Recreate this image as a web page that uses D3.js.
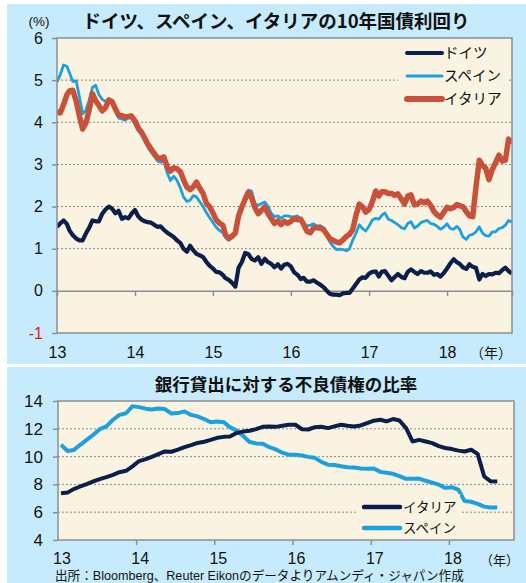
<!DOCTYPE html>
<html><head><meta charset="utf-8">
<script src="https://cdn.jsdelivr.net/npm/d3@7"></script>
<style>
body{margin:0;background:#fff}
svg{display:block}
text{font-family:"Liberation Sans","Noto Sans CJK JP",sans-serif}
.jp{font-family:"Noto Sans CJK JP","Liberation Sans",sans-serif}
</style>
</head><body>
<svg id="c" width="526" height="583"></svg>
<script>
// ---------- data: 10-year government bond yields (half-monthly readings) ----------
const yieldDates = [
"2013-01-01","2013-01-16","2013-02-01","2013-02-16","2013-03-01","2013-03-16","2013-04-01","2013-04-16","2013-05-01","2013-05-16","2013-06-01","2013-06-16",
"2013-07-01","2013-07-16","2013-08-01","2013-08-16","2013-09-01","2013-09-16","2013-10-01","2013-10-16","2013-11-01","2013-11-16","2013-12-01","2013-12-16",
"2014-01-01","2014-01-16","2014-02-01","2014-02-16","2014-03-01","2014-03-16","2014-04-01","2014-04-16","2014-05-01","2014-05-16","2014-06-01","2014-06-16",
"2014-07-01","2014-07-16","2014-08-01","2014-08-16","2014-09-01","2014-09-16","2014-10-01","2014-10-16","2014-11-01","2014-11-16","2014-12-01","2014-12-16",
"2015-01-01","2015-01-16","2015-02-01","2015-02-16","2015-03-01","2015-03-16","2015-04-01","2015-04-16","2015-05-01","2015-05-16","2015-06-01","2015-06-16",
"2015-07-01","2015-07-16","2015-08-01","2015-08-16","2015-09-01","2015-09-16","2015-10-01","2015-10-16","2015-11-01","2015-11-16","2015-12-01","2015-12-16",
"2016-01-01","2016-01-16","2016-02-01","2016-02-16","2016-03-01","2016-03-16","2016-04-01","2016-04-16","2016-05-01","2016-05-16","2016-06-01","2016-06-16",
"2016-07-01","2016-07-16","2016-08-01","2016-08-16","2016-09-01","2016-09-16","2016-10-01","2016-10-16","2016-11-01","2016-11-16","2016-12-01","2016-12-16",
"2017-01-01","2017-01-16","2017-02-01","2017-02-16","2017-03-01","2017-03-16","2017-04-01","2017-04-16","2017-05-01","2017-05-16","2017-06-01","2017-06-16",
"2017-07-01","2017-07-16","2017-08-01","2017-08-16","2017-09-01","2017-09-16","2017-10-01","2017-10-16","2017-11-01","2017-11-16","2017-12-01","2017-12-16",
"2018-01-01","2018-01-16","2018-02-01","2018-02-16","2018-03-01","2018-03-16","2018-04-01","2018-04-16","2018-05-01","2018-05-16","2018-06-01","2018-06-16",
"2018-07-01","2018-07-16","2018-08-01","2018-08-16","2018-09-01","2018-09-16","2018-10-01","2018-10-16","2018-11-01"
];
const germany = [
1.52,1.60,1.67,1.59,1.43,1.32,1.24,1.20,1.20,1.36,
1.50,1.67,1.65,1.65,1.83,1.93,2.00,1.95,1.84,1.90,
1.71,1.75,1.72,1.83,1.92,1.77,1.69,1.65,1.63,1.62,
1.57,1.52,1.53,1.45,1.38,1.33,1.28,1.20,1.14,1.00,
0.93,1.07,0.96,0.88,0.84,0.80,0.69,0.60,0.53,0.45,
0.44,0.38,0.30,0.26,0.19,0.10,0.55,0.68,0.90,0.87,
0.76,0.72,0.80,0.64,0.76,0.68,0.64,0.56,0.63,0.53,
0.62,0.64,0.58,0.44,0.38,0.28,0.31,0.22,0.22,0.25,
0.20,0.15,0.09,0.01,-0.07,-0.09,-0.09,-0.10,-0.06,-0.05,
-0.05,0.05,0.16,0.27,0.32,0.31,0.41,0.45,0.46,0.34,
0.45,0.47,0.36,0.25,0.33,0.40,0.33,0.30,0.45,0.51,
0.45,0.40,0.47,0.43,0.43,0.46,0.38,0.40,0.34,0.42,
0.53,0.65,0.75,0.68,0.64,0.56,0.52,0.63,0.57,0.55,
0.27,0.40,0.35,0.40,0.39,0.43,0.42,0.49,0.55,0.47,
0.41];
const spain = [
4.95,5.13,5.36,5.33,5.17,4.97,4.98,4.60,4.20,4.28,
4.53,4.83,4.88,4.66,4.54,4.50,4.50,4.45,4.28,4.10,
4.08,4.05,4.10,4.10,3.95,3.80,3.70,3.55,3.42,3.30,
3.20,3.08,3.05,3.10,2.80,2.62,2.72,2.63,2.45,2.23,
2.12,2.15,2.26,2.23,2.11,2.00,1.86,1.74,1.62,1.51,
1.43,1.38,1.26,1.20,1.26,1.40,1.72,1.95,2.25,2.39,
2.37,2.07,2.03,2.07,2.11,2.00,1.84,1.76,1.78,1.72,
1.78,1.78,1.76,1.75,1.78,1.70,1.61,1.54,1.56,1.59,
1.54,1.55,1.50,1.31,1.16,1.06,0.98,0.99,0.98,0.95,
1.00,1.20,1.37,1.57,1.48,1.42,1.54,1.68,1.72,1.70,
1.79,1.85,1.70,1.67,1.62,1.57,1.50,1.47,1.60,1.64,
1.49,1.54,1.62,1.65,1.67,1.60,1.58,1.53,1.46,1.51,
1.59,1.48,1.46,1.53,1.46,1.28,1.22,1.32,1.34,1.40,
1.52,1.37,1.31,1.30,1.40,1.40,1.48,1.50,1.56,1.67,
1.63];
const italy = [
4.25,4.22,4.42,4.65,4.75,4.76,4.50,4.15,3.84,3.98,
4.30,4.68,4.51,4.40,4.27,4.35,4.53,4.49,4.32,4.17,
4.16,4.12,4.14,4.15,4.03,3.87,3.76,3.62,3.49,3.38,
3.26,3.16,3.14,3.18,2.94,2.84,2.92,2.90,2.83,2.64,
2.46,2.40,2.47,2.58,2.43,2.31,2.08,2.00,1.85,1.69,
1.60,1.56,1.33,1.25,1.30,1.37,1.78,1.99,2.18,2.34,
2.21,1.98,1.83,1.91,1.99,1.83,1.72,1.60,1.66,1.57,
1.65,1.60,1.65,1.72,1.69,1.70,1.57,1.41,1.38,1.49,
1.50,1.49,1.46,1.35,1.24,1.20,1.16,1.14,1.21,1.29,
1.34,1.45,1.80,2.06,2.00,1.87,1.93,2.11,2.37,2.25,
2.35,2.35,2.31,2.31,2.27,2.30,2.18,2.06,2.25,2.28,
2.04,2.06,2.13,2.09,2.13,2.03,1.88,1.80,1.75,1.86,
1.98,1.95,1.98,2.05,2.02,2.00,1.88,1.78,1.76,2.45,
3.10,2.97,2.91,2.64,2.88,3.04,3.22,3.08,3.10,3.60,
3.50];
const yieldTicks = [-1,0,1,2,3,4,5,6];
const yieldSeries = ["ドイツ","スペイン","イタリア"];

// ---------- data: non-performing loan ratio (monthly) ----------
const nplMonths = [
"2013-01","2013-02","2013-03","2013-04","2013-05","2013-06","2013-07","2013-08","2013-09","2013-10","2013-11","2013-12",
"2014-01","2014-02","2014-03","2014-04","2014-05","2014-06","2014-07","2014-08","2014-09","2014-10","2014-11","2014-12",
"2015-01","2015-02","2015-03","2015-04","2015-05","2015-06","2015-07","2015-08","2015-09","2015-10","2015-11","2015-12",
"2016-01","2016-02","2016-03","2016-04","2016-05","2016-06","2016-07","2016-08","2016-09","2016-10","2016-11","2016-12",
"2017-01","2017-02","2017-03","2017-04","2017-05","2017-06","2017-07","2017-08","2017-09","2017-10","2017-11","2017-12",
"2018-01","2018-02","2018-03","2018-04","2018-05","2018-06","2018-07","2018-08"];
const nplItaly = [
7.37,7.42,7.66,7.85,8.02,8.21,8.38,8.52,8.69,8.88,
8.98,9.30,9.68,9.82,9.98,10.18,10.37,10.35,10.50,10.68,
10.82,10.98,11.07,11.20,11.35,11.42,11.45,11.70,11.80,11.86,
11.98,12.14,12.17,12.14,12.22,12.29,12.29,11.97,11.95,12.12,
12.15,12.05,12.17,12.29,12.22,12.17,12.24,12.41,12.58,12.65,
12.53,12.70,12.60,12.05,11.09,11.20,11.09,10.97,10.75,10.62,
10.54,10.43,10.37,10.49,10.20,8.57,8.22,8.21];
const nplSpain = [
10.85,10.40,10.47,10.85,11.20,11.57,11.97,12.17,12.65,13.00,
13.12,13.63,13.56,13.45,13.39,13.46,13.42,13.10,13.13,13.25,
13.00,12.89,12.70,12.47,12.53,12.47,12.12,11.88,11.50,11.05,
10.95,10.92,10.68,10.52,10.28,10.14,10.13,10.08,9.98,9.91,
9.62,9.42,9.40,9.30,9.24,9.22,9.15,9.12,9.15,8.90,
8.84,8.76,8.60,8.40,8.40,8.42,8.26,8.13,7.98,7.75,
7.80,7.60,6.80,6.75,6.60,6.40,6.34,6.34];
const nplTicks = [4,6,8,10,12,14];
const nplSeries = ["イタリア","スペイン"];

const yearTicks = ["2013","2014","2015","2016","2017","2018"];
const yearLabels = ["13","14","15","16","17","18"];

// ---------- styles ----------
const C = {panel:"#c6ebfc", plot:"#fbf3e1", border:"#8e8e8e", grid:"#8a8a8a",
  de:"#0b1f4b", es:"#1ba0e0", it:"#c9513a", ink:"#111"};

const svg = d3.select("#c");
const parseDay = d3.utcParse("%Y-%m-%d");
const parseMonth = d3.utcParse("%Y-%m");
const parseYear = d3.utcParse("%Y");

// panels
svg.append("rect").attr("x",7).attr("y",4).attr("width",519).attr("height",360).attr("fill",C.panel);
svg.append("rect").attr("x",7).attr("y",367).attr("width",519).attr("height",216).attr("fill",C.panel);

// ================= TOP CHART =================
const T = {l:57, r:512, t:38, b:333};
const xT = d3.scaleUtc().domain([parseDay("2013-01-01"), parseDay("2018-11-01")]).range([T.l, T.r]);
const yT = d3.scaleLinear().domain([-1,6]).range([T.b, T.t]);

svg.append("rect").attr("x",T.l).attr("y",T.t).attr("width",T.r-T.l).attr("height",T.b-T.t).attr("fill",C.plot);
svg.append("defs").append("clipPath").attr("id","clipT").append("rect")
  .attr("x",T.l).attr("y",T.t).attr("width",T.r-T.l).attr("height",T.b-T.t);
svg.select("defs").append("clipPath").attr("id","clipB").append("rect")
  .attr("x",58).attr("y",401).attr("width",456).attr("height",139);

// grid
svg.append("g").selectAll("line").data([1,2,3,4,5]).join("line")
  .attr("x1",T.l).attr("x2",T.r).attr("y1",d=>yT(d)).attr("y2",d=>yT(d))
  .attr("stroke",C.grid).attr("stroke-width",1).attr("stroke-dasharray","2,2");
// zero axis with year ticks
const gx0 = svg.append("g").attr("transform",`translate(0,${yT(0)})`)
  .call(d3.axisBottom(xT).tickValues(yearTicks.slice(1).map(parseYear)).tickSize(5).tickFormat(""));
gx0.select(".domain").attr("stroke",C.border).attr("stroke-width",1.5);
gx0.selectAll(".tick line").attr("stroke",C.border).attr("stroke-width",1.5);

// x labels
const gxl = svg.append("g").attr("transform",`translate(0,${T.b})`)
  .call(d3.axisBottom(xT).tickValues(yearTicks.map(parseYear)).tickSize(0).tickPadding(14)
    .tickFormat((d,i)=>yearLabels[i]));
gxl.select(".domain").remove();
gxl.selectAll("text").attr("font-size",16).attr("fill",C.ink).style("font-family","Liberation Sans");
svg.append("text").attr("class","jp").attr("x",470).attr("y",358).attr("font-size",14).attr("fill",C.ink).text("（年）");

// y axis
const gy = svg.append("g").attr("transform",`translate(${T.l},0)`)
  .call(d3.axisLeft(yT).tickValues(yieldTicks).tickSize(5).tickPadding(9).tickFormat(d=>String(d)));
gy.select(".domain").remove();
gy.selectAll(".tick line").attr("stroke",C.border).attr("stroke-width",1.5);
gy.selectAll("text").attr("font-size",16).attr("fill",d=>d<0?"#e8141a":C.ink).style("font-family","Liberation Sans");

// lines
const lineT = d3.line().x(d=>xT(d[0])).y(d=>yT(d[1]));
const dts = yieldDates.map(parseDay);
const gl = svg.append("g").attr("clip-path","url(#clipT)");
gl.append("path").datum(dts.map((d,i)=>[d,germany[i]])).attr("d",lineT)
  .attr("fill","none").attr("stroke",C.de).attr("stroke-width",4.2).attr("stroke-linejoin","round");
gl.append("path").datum(dts.map((d,i)=>[d,spain[i]])).attr("d",lineT)
  .attr("fill","none").attr("stroke",C.es).attr("stroke-width",2.8).attr("stroke-linejoin","round");
gl.append("path").datum(dts.map((d,i)=>[d,italy[i]])).attr("d",lineT)
  .attr("fill","none").attr("stroke",C.it).attr("stroke-width",5.5).attr("stroke-linejoin","round");

// border
svg.append("rect").attr("x",T.l).attr("y",T.t).attr("width",T.r-T.l).attr("height",T.b-T.t)
  .attr("fill","none").attr("stroke",C.border).attr("stroke-width",1.5);

// legend
const legT = svg.append("g");
legT.append("rect").attr("x",398).attr("y",41).attr("width",110).attr("height",70).attr("fill",C.plot);
const legStyle = [{c:C.de,w:4},{c:C.es,w:3},{c:C.it,w:6}];
yieldSeries.forEach((s,i)=>{
  const y = 53 + i*23;
  legT.append("line").attr("x1",407).attr("x2",442).attr("y1",y).attr("y2",y)
    .attr("stroke",legStyle[i].c).attr("stroke-width",legStyle[i].w).attr("stroke-linecap","round");
  legT.append("text").attr("class","jp").attr("x",444).attr("y",y).attr("dy","0.36em")
    .attr("font-size",14.5).attr("fill",C.ink).text(s);
});

// title & unit
svg.append("text").attr("x",39).attr("y",26).attr("text-anchor","middle").attr("font-size",13.5).attr("fill",C.ink).text("(%)");
svg.append("text").attr("class","jp").attr("x",276).attr("y",28).attr("text-anchor","middle")
  .attr("font-size",18.5).attr("font-weight","bold").attr("fill",C.ink).text("ドイツ、スペイン、イタリアの10年国債利回り");

// ================= BOTTOM CHART =================
const B = {l:58, r:514, t:401, b:540};
const xB = d3.scaleUtc().domain([parseDay("2013-01-01"), parseDay("2018-11-01")]).range([B.l, B.r]);
const yB = d3.scaleLinear().domain([4,14]).range([B.b, B.t]);

svg.append("rect").attr("x",B.l).attr("y",B.t).attr("width",B.r-B.l).attr("height",B.b-B.t).attr("fill",C.plot);
svg.append("g").selectAll("line").data([6,8,10,12]).join("line")
  .attr("x1",B.l).attr("x2",B.r).attr("y1",d=>yB(d)).attr("y2",d=>yB(d))
  .attr("stroke",C.grid).attr("stroke-width",1).attr("stroke-dasharray","2,2");

const gxB = svg.append("g").attr("transform",`translate(0,${B.b})`)
  .call(d3.axisBottom(xB).tickValues(yearTicks.slice(1).map(parseYear)).tickSize(5).tickFormat(""));
gxB.select(".domain").remove();
gxB.selectAll(".tick line").attr("stroke",C.border).attr("stroke-width",1.5);
const gxBl = svg.append("g").attr("transform",`translate(3.5,${B.b})`)
  .call(d3.axisBottom(xB).tickValues(yearTicks.map(parseYear)).tickSize(0).tickPadding(13)
    .tickFormat((d,i)=>yearLabels[i]));
gxBl.select(".domain").remove();
gxBl.selectAll("text").attr("font-size",16).attr("fill",C.ink).style("font-family","Liberation Sans");
svg.append("text").attr("class","jp").attr("x",480).attr("y",565).attr("font-size",13).attr("fill",C.ink).text("（年）");

const gyB = svg.append("g").attr("transform",`translate(${B.l},0)`)
  .call(d3.axisLeft(yB).tickValues(nplTicks).tickSize(5).tickPadding(10).tickFormat(d=>String(d)));
gyB.select(".domain").remove();
gyB.selectAll(".tick line").attr("stroke",C.border).attr("stroke-width",1.5);
gyB.selectAll("text").attr("font-size",17).attr("fill",C.ink).style("font-family","Liberation Sans");

const mts = nplMonths.map(m=>d3.utcDay.offset(parseMonth(m),14));
const lineB = d3.line().x(d=>xB(d[0])).y(d=>yB(d[1]));
const glB = svg.append("g").attr("clip-path","url(#clipB)");
glB.append("path").datum(mts.map((d,i)=>[d,nplSpain[i]])).attr("d",lineB)
  .attr("fill","none").attr("stroke",C.es).attr("stroke-width",4).attr("stroke-linejoin","round");
glB.append("path").datum(mts.map((d,i)=>[d,nplItaly[i]])).attr("d",lineB)
  .attr("fill","none").attr("stroke",C.de).attr("stroke-width",4).attr("stroke-linejoin","round");

svg.append("rect").attr("x",B.l).attr("y",B.t).attr("width",B.r-B.l).attr("height",B.b-B.t)
  .attr("fill","none").attr("stroke",C.border).attr("stroke-width",1.5);

// legend bottom
const legB = svg.append("g");
legB.append("rect").attr("x",357).attr("y",494).attr("width",103).attr("height",44).attr("fill",C.plot);
const legBStyle = [C.de, C.es];
nplSeries.forEach((s,i)=>{
  const y = 507 + i*21;
  legB.append("line").attr("x1",364).attr("x2",400).attr("y1",y).attr("y2",y)
    .attr("stroke",legBStyle[i]).attr("stroke-width",4.5).attr("stroke-linecap","round");
  legB.append("text").attr("class","jp").attr("x",403).attr("y",y).attr("dy","0.36em")
    .attr("font-size",13.5).attr("fill",C.ink).text(s);
});

svg.append("text").attr("class","jp").attr("x",286).attr("y",391).attr("text-anchor","middle")
  .attr("font-size",17.5).attr("font-weight","bold").attr("fill",C.ink).text("銀行貸出に対する不良債権の比率");

// source
svg.append("text").attr("x",55).attr("y",580.3).attr("font-size",12.6).attr("fill",C.ink)
  .text("出所：Bloomberg、Reuter Eikonのデータよりアムンディ・ジャパン作成");
</script>
</body></html>
